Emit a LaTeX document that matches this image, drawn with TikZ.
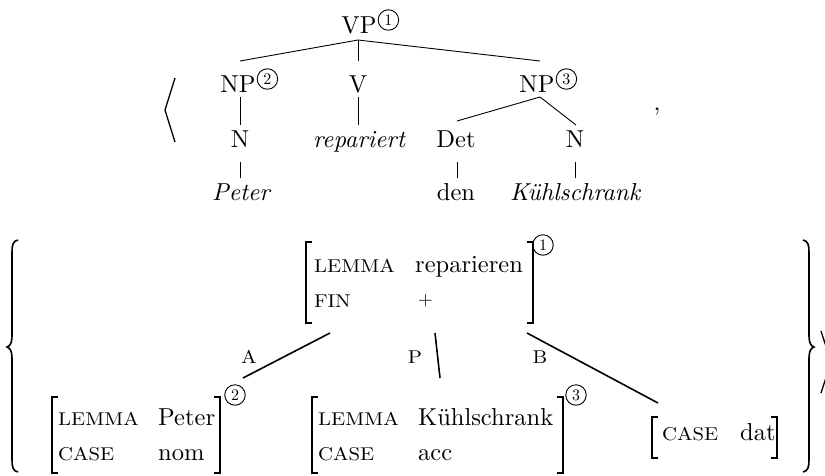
\documentclass[tikz,border=0pt]{standalone}
\usepackage{fontspec}
\usepackage{graphicx}
\setmainfont{lmroman10-regular.otf}[ItalicFont=lmroman10-italic.otf, BoldFont=lmroman10-bold.otf]
\newcommand{\featsc}[1]{\scalebox{1.12}[1]{\fontsize{18.5}{20}\selectfont #1}}
\begin{document}
\begin{tikzpicture}[x=1pt,y=-1pt,
  txt/.style={inner sep=0pt, anchor=base, font=\fontsize{24.5}{28}\selectfont},
  circ/.style={circle, draw, line width=0.9pt, minimum size=20.5pt, inner sep=0pt, font=\fontsize{16}{16}\selectfont},
  tedge/.style={line width=0.9pt},
  conn/.style={line width=1.6pt},
  brk/.style={line width=1.3pt},
  brace/.style={line width=1.6pt},
  abox/.style={inner sep=0pt, outer sep=0pt, draw=none, rectangle}
]
\useasboundingbox (0,0) rectangle (825,475);
\clip (0,0) rectangle (825,475);

% ---------- tree ----------
\node[txt] (vp) at (359,33) {VP};
\node[circ, anchor=west] (c1t) at ([shift={(1,-13)}]vp.base east) {1};
\node[txt] (np2) at (238,92) {NP};
\node[circ, anchor=west] (c2t) at ([shift={(1,-13)}]np2.base east) {2};
\node[txt] (v) at (358,92) {V};
\node[txt] (np3) at (537,92) {NP};
\node[circ, anchor=west] (c3t) at ([shift={(1,-13)}]np3.base east) {3};
\node[txt] (n1) at (240,147) {N};
\node[txt] (rep) at (359,147) {\itshape repariert};
\node[txt] (det) at (456,147) {Det};
\node[txt] (n2) at (575,147) {N};
\node[txt] (peter) at (241,200) {\itshape Peter};
\node[txt] (den) at (456,200) {den};
\node[txt] (kuehl) at (575,200) {\itshape Kühlschrank};

\draw[tedge] ([shift={(-1,7)}]vp.base) -- ([shift={(2,-31)}]np2.base);
\draw[tedge] ([shift={(-1,7)}]vp.base) -- ([shift={(0,-31)}]v.base);
\draw[tedge] ([shift={(-1,7)}]vp.base) -- ([shift={(3,-31)}]np3.base);
\draw[tedge] ([shift={(2,5)}]np2.base) -- ([shift={(0,-22)}]n1.base);
\draw[tedge] ([shift={(0,15)}]n1.base) -- ([shift={(-1,-22)}]peter.base);
\draw[tedge] ([shift={(0,5)}]v.base) -- ([shift={(-1,-22)}]rep.base);
\draw[tedge] ([shift={(3,5)}]np3.base) -- ([shift={(1,-26)}]det.base);
\draw[tedge] ([shift={(3,5)}]np3.base) -- ([shift={(1,-22)}]n2.base);
\draw[tedge] ([shift={(1,15)}]det.base) -- ([shift={(1,-22)}]den.base);
\draw[tedge] ([shift={(0,15)}]n2.base) -- ([shift={(0,-22)}]kuehl.base);

% angle bracket and comma
\draw[brk] (175,78) -- (165,110) -- (175,142);
\node[txt] (comma) at (657,110) {,};

% ---------- AVMs ----------
% top AVM
\node[abox, minimum width=227, minimum height=81] (avm1) at (419.5,282.5) {};
\draw[brk] ([xshift=6pt]avm1.north west) -- (avm1.north west) -- (avm1.south west) -- ([xshift=6pt]avm1.south west);
\draw[brk] ([xshift=-6pt]avm1.north east) -- (avm1.north east) -- (avm1.south east) -- ([xshift=-6pt]avm1.south east);
\node[txt, anchor=base west] (a1l) at (314,272) {\featsc{LEMMA}};
\node[txt, anchor=base west] (a1lv) at (415,272) {reparieren};
\node[txt, anchor=base west] (a1f) at (314,307) {\featsc{FIN}};
\node[txt, anchor=base west, font=\fontsize{19}{20}\selectfont] (a1fv) at (418,305) {+};
\node[circ] (c1) at (543,245) {1};

% Peter AVM
\node[abox, minimum width=168, minimum height=76] (avmp) at (136,435) {};
\draw[brk] ([xshift=6pt]avmp.north west) -- (avmp.north west) -- (avmp.south west) -- ([xshift=6pt]avmp.south west);
\draw[brk] ([xshift=-6pt]avmp.north east) -- (avmp.north east) -- (avmp.south east) -- ([xshift=-6pt]avmp.south east);
\node[txt, anchor=base west] (apl) at (58,425) {\featsc{LEMMA}};
\node[txt, anchor=base west] (aplv) at (158,425) {Peter};
\node[txt, anchor=base west] (apc) at (58,460) {\featsc{CASE}};
\node[txt, anchor=base west] (apcv) at (158,460) {nom};
\node[circ] (c2) at (235,395) {2};

% Kuehlschrank AVM
\node[abox, minimum width=251, minimum height=76] (avmk) at (437.5,435) {};
\draw[brk] ([xshift=6pt]avmk.north west) -- (avmk.north west) -- (avmk.south west) -- ([xshift=6pt]avmk.south west);
\draw[brk] ([xshift=-6pt]avmk.north east) -- (avmk.north east) -- (avmk.south east) -- ([xshift=-6pt]avmk.south east);
\node[txt, anchor=base west] (akl) at (318,425) {\featsc{LEMMA}};
\node[txt, anchor=base west] (aklv) at (418,425) {Kühlschrank};
\node[txt, anchor=base west] (akc) at (318,460) {\featsc{CASE}};
\node[txt, anchor=base west] (akcv) at (418,460) {acc};
\node[circ] (c3) at (576,395) {3};

% dat AVM
\node[abox, minimum width=125, minimum height=41] (avmd) at (714.5,437.5) {};
\draw[brk] ([xshift=6pt]avmd.north west) -- (avmd.north west) -- (avmd.south west) -- ([xshift=6pt]avmd.south west);
\draw[brk] ([xshift=-6pt]avmd.north east) -- (avmd.north east) -- (avmd.south east) -- ([xshift=-6pt]avmd.south east);
\node[txt, anchor=base west] (adc) at (662,440) {\featsc{CASE}};
\node[txt, anchor=base west] (adcv) at (740,440) {dat};

% connectors
\draw[conn] ([shift={(24,10)}]avm1.south west) -- ([shift={(8,-17)}]c2.center);
\draw[conn] ([shift={(129,10)}]avm1.south west) -- ([shift={(128,-19)}]avmk.north west);
\draw[conn] ([shift={(-6,10)}]avm1.south east) -- ([shift={(6,-14)}]avmd.north west);
\node[txt] (la) at (249,363) {\featsc{A}};
\node[txt] (lp) at (415,363) {\featsc{P}};
\node[txt] (lb) at (540,363) {\featsc{B}};

% braces
\draw[brace] (18,240) .. controls (13,241) and (12,245) .. (12,252) -- (12,336) .. controls (12,343) and (10,346) .. (7,347) .. controls (10,348) and (12,351) .. (12,358) -- (12,460) .. controls (12,467) and (13,471) .. (18,472);
\draw[brace] (803,240) .. controls (808,241) and (809,245) .. (809,252) -- (809,336) .. controls (809,343) and (811,346) .. (814,347) .. controls (811,348) and (809,351) .. (809,358) -- (809,460) .. controls (809,467) and (808,471) .. (803,472);
\draw[brk] (821,331) -- (831,362) -- (821,393);
\end{tikzpicture}
\end{document}
